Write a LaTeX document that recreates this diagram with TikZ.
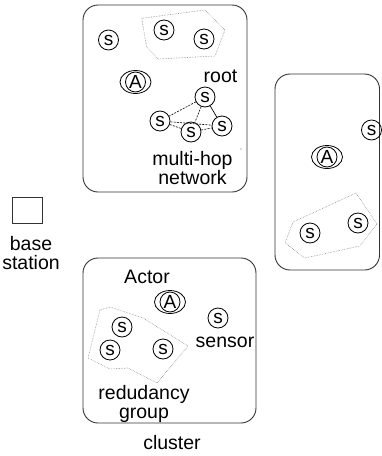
\documentclass[tikz,border=0pt]{standalone}
\usepackage{fontspec}
\setmainfont{Liberation Sans}
\begin{document}
\begin{tikzpicture}[x=1pt,y=-1pt,
  lbl/.style={font=\fontsize{19.5}{19}\selectfont, inner sep=0pt, anchor=base, align=center},
  cluster/.style={draw=black!80, line width=0.9pt, rounded corners=15pt},
  sensor/.style={draw, line width=0.8pt, circle, minimum size=20pt, inner sep=0pt,
    font=\fontsize{19}{19}\selectfont},
  actor/.style={draw, line width=0.8pt, circle, minimum width=20pt, inner sep=0pt,
    font=\fontsize{19}{19}\selectfont,
    append after command={\pgfextra{\draw[line width=0.8pt]
      (\tikzlastnode.center) ellipse [x radius=15.5pt, y radius=11.5pt];}}},
  group/.style={draw=black!45, line width=0.6pt, densely dotted},
  hop/.style={line width=0.6pt, dash pattern=on 2pt off 1.2pt},
  link/.style={line width=0.7pt}]
\useasboundingbox (0,0) rectangle (381,456);

% clusters
\draw[cluster] (83,5) rectangle (247,192);
\draw[cluster] (275,74) rectangle (379.5,270);
\draw[cluster] (83,258) rectangle (256,423);

% base station
\node[draw=black!80, line width=0.8pt, minimum width=30pt, minimum height=26pt, inner sep=0pt] (bs) at (27,210) {};
\node[lbl] (bslbl) at (31,269.5) {base\\station};

% upper cluster
\node[sensor] (u1) at (108.5,40) {s};
\node[sensor] (u2) at (164,30) {s};
\node[sensor] (u3) at (204,39) {s};
\draw[group] (141.7,18.3) -- (205,10) -- (225,30) -- (215,56) -- (158,59) -- (146.5,46.5) -- cycle;
\node[actor] (ua) at (135.5,82) {A};
\node[lbl] (rootlbl) at (220.5,82) {root};
\node[sensor] (root) at (205,97) {s};
\node[sensor] (n1) at (160,121) {s};
\node[sensor] (n2) at (191,132) {s};
\node[sensor] (n3) at (222,126) {s};
\draw[hop] (root) -- (n1);
\draw[link] (root) -- (n3);
\draw[hop] (root) -- (n2);
\draw[hop] (n1) -- (n3);
\draw[hop] (n1) -- (n2);
\draw[hop] (n2) -- (n3);
\fill[black!60] (241,149) circle (0.7pt);
\node[lbl] (mhlbl) at (192.5,184) {multi-hop\\network};

% right cluster
\node[sensor] (r1) at (371.5,130) {s};
\node[actor] (ra) at (327,157) {A};
\node[sensor] (r2) at (358,223) {s};
\node[sensor] (r3) at (310,233) {s};
\draw[group] (293,222) -- (356,193) -- (377,224) -- (360,246) -- (305,258) -- (285,243) -- cycle;

% lower cluster
\node[lbl] (actorlbl) at (147,283) {Actor};
\node[actor] (la) at (170,302) {A};
\node[sensor] (l0) at (218,318) {s};
\node[lbl] (senslbl) at (225,347) {sensor};
\node[sensor] (l1) at (122,327) {s};
\node[sensor] (l2) at (110,350) {s};
\node[sensor] (l3) at (163,349) {s};
\draw[group] (100,310) -- (110,307) -- (143,318) -- (188,346) -- (157,383) -- (128,368) -- (110,369) -- (88,358) -- cycle;
\node[lbl] (rglbl) at (144,418) {redudancy\\group};
\node[lbl] (cllbl) at (172,449) {cluster};
\end{tikzpicture}
\end{document}
